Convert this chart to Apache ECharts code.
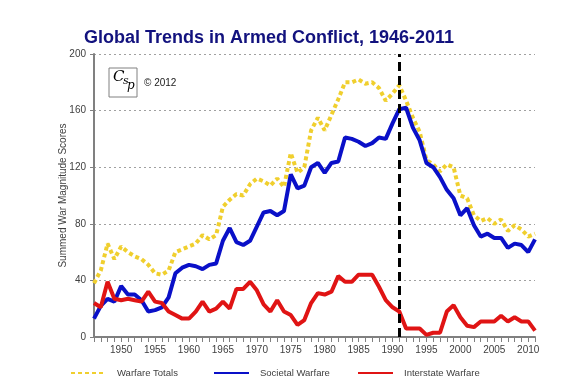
<!DOCTYPE html>
<html>
<head>
<meta charset="utf-8">
<script src="https://cdn.jsdelivr.net/npm/echarts@6/dist/echarts.min.js"></script>
<style>html,body{margin:0;padding:0;background:#fff;}#c{width:563px;height:389px;}</style>
</head>
<body>
<div id="c"></div>
<script>
const years = [];
for (let y = 1946; y <= 2011; y++) years.push(y);

const warfareTotals = [38,47,66,55,64,60,57,55,51,45,44,47,60,62,64,66,72,69,72,92,97,101,100,108,112,110,107,112,106,130,116,120,146,155,146,157,168,180,180,182,179,180,176,167,172,178,167,155,145,125,122,117,122,120,100,98,86,82,84,80,83,75,79,76,71,73];
const societalWarfare = [13,22,27,25,36,30,30,26,18,19,21,28,45,49,51,50,48,51,52,68,77,67,65,68,78,88,89,86,89,115,105,107,120,123,116,123,124,141,140,138,135,137,141,140,151,161,162,148,139,123,120,113,104,98,86,91,79,71,73,70,70,63,66,65,60,69];
const interstateWarfare = [24,21,39,27,26,27,26,25,32,25,24,18,15.5,13,13,18,25,18,20,25,20,34,34,39,33,23,18,26,18,15.5,8.5,12,24,31,30,32,43,39,39,44,44,44,35.5,26,21,18,6,6,6,1.5,3,3,18,22.5,14,8,7,11,11,11,15,11,14,11,11,4.5];
const yTicks = [0,40,80,120,160,200];
const divideYear = 1991;

const pairs = arr => years.map((y, i) => [y, arr[i]]);
const fontFamily = 'Liberation Sans, Arial, sans-serif';

const legendBase = {
  top: 363, itemWidth: 35, itemHeight: 6,
  itemStyle: { opacity: 0 },
  textStyle: { fontSize: 9.5, color: '#404040', fontFamily, padding: [0, 0, 0, 6] }
};

const chart = echarts.init(document.getElementById('c'));
chart.setOption({
  animation: false,
  backgroundColor: '#ffffff',
  title: {
    text: 'Global Trends in Armed Conflict, 1946-2011',
    left: 79, top: 24,
    textStyle: { color: '#12127e', fontSize: 18, fontWeight: 'bold', fontFamily }
  },
  legend: [
    Object.assign({ data: ['Warfare Totals'], left: 65 }, legendBase),
    Object.assign({ data: ['Societal Warfare'], left: 208 }, legendBase),
    Object.assign({ data: ['Interstate Warfare'], left: 352 }, legendBase)
  ],
  grid: { left: 94, right: 28, top: 54, bottom: 52, containLabel: false },
  xAxis: {
    type: 'value', min: 1946, max: 2011, interval: 1,
    axisLine: { show: true, lineStyle: { color: '#808080', width: 2 } },
    axisTick: { show: true, length: 5, lineStyle: { color: '#808080', width: 1 } },
    splitLine: { show: false },
    axisLabel: { margin: 8, fontSize: 10, color: '#404040', fontFamily,
      formatter: v => (v % 5 === 0 ? String(v) : '') }
  },
  yAxis: {
    type: 'value', min: yTicks[0], max: yTicks[yTicks.length - 1], interval: 40,
    name: 'Summed War Magnitude Scores', nameLocation: 'middle', nameRotate: 90, nameGap: 26,
    nameMoveOverlap: false,
    nameTextStyle: { fontSize: 10, color: '#404040', fontFamily },
    axisLine: { show: true, lineStyle: { color: '#808080', width: 2 } },
    axisTick: { show: true, length: 4, lineStyle: { color: '#808080', width: 1 } },
    splitLine: { show: true, lineStyle: { color: '#a0a0a0', width: 1, type: [2, 3] } },
    axisLabel: { margin: 8, fontSize: 10, color: '#404040', fontFamily }
  },
  graphic: [
    { type: 'rect', shape: { x: 109, y: 68, width: 28, height: 29 },
      style: { fill: '#fff', stroke: '#808080', lineWidth: 1 } },
    { type: 'text', x: 113, y: 70, style: { text: 'C', font: 'italic 15px DejaVu Serif', fill: '#000' } },
    { type: 'text', x: 123, y: 76, style: { text: 's', font: 'italic 11px DejaVu Serif', fill: '#000' } },
    { type: 'text', x: 127, y: 80, style: { text: 'p', font: 'italic 12px DejaVu Serif', fill: '#000' } },
    { type: 'text', x: 144, y: 78, style: { text: '© 2012', font: '10px Liberation Sans', fill: '#202020' } }
  ],
  series: [
    { name: 'Warfare Totals', type: 'line', data: pairs(warfareTotals), symbol: 'none', z: 2,
      itemStyle: { color: '#f0cf2e' },
      lineStyle: { color: '#f0cf2e', width: 4, type: [4, 3], cap: 'butt' } },
    { name: 'Societal Warfare', type: 'line', data: pairs(societalWarfare), symbol: 'none', z: 3,
      itemStyle: { color: '#0a10c8' },
      lineStyle: { color: '#0a10c8', width: 4 } },
    { name: 'Interstate Warfare', type: 'line', data: pairs(interstateWarfare), symbol: 'none', z: 4,
      itemStyle: { color: '#e01414' },
      lineStyle: { color: '#e01414', width: 4 },
      markLine: { silent: true, symbol: ['none', 'none'], label: { show: false }, z: 6,
        lineStyle: { color: '#000', width: 3, type: [9, 5] },
        data: [{ xAxis: divideYear }] } }
  ]
});
</script>
</body>
</html>
